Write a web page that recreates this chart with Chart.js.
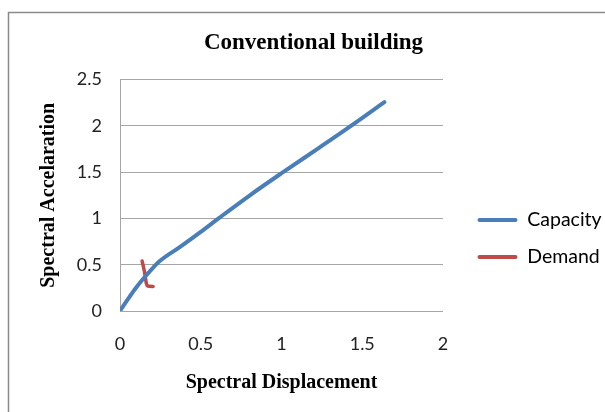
<!DOCTYPE html>
<html>
<head>
<meta charset="utf-8">
<script src="https://cdn.jsdelivr.net/npm/chart.js@4"></script>
<style>
  html, body { margin: 0; padding: 0; background: #fff; }
  #wrap { width: 605px; height: 412px; }
</style>
</head>
<body>
<div id="wrap"><canvas id="c" width="605" height="412"></canvas></div>
<script>
// Capacity curve (spectral displacement vs spectral acceleration)
const capacityX = [0, 0.05, 0.09, 0.14, 0.19, 0.25, 0.37, 0.5, 0.61, 0.8, 1.01, 1.23, 1.43, 1.637];
const capacityY = [0, 0.13, 0.23, 0.34, 0.44, 0.545, 0.69, 0.855, 1.0, 1.245, 1.5, 1.76, 2.0, 2.257];

// Demand curve
const demandX = [0.137, 0.152, 0.163, 0.172, 0.205];
const demandY = [0.54, 0.42, 0.30, 0.27, 0.265];

// Axis tick labels
const xTickValues = [0, 0.5, 1, 1.5, 2];
const yTickValues = [0, 0.5, 1, 1.5, 2, 2.5];

const seriesNames = ['Capacity', 'Demand'];
const seriesColors = ['#4A7EBB', '#BE4B48'];

const toPoints = (xs, ys) => xs.map((x, i) => ({ x: x, y: ys[i] }));

const tickFont = { family: 'Lato', size: 18 };
const legendFont = { family: 'Lato', size: 19.5 };
const serifBold = { family: 'Liberation Serif', size: 20, weight: 'bold' };

// White background and the outer chart frame
const framePlugin = {
  id: 'frame',
  beforeDraw(chart) {
    const ctx = chart.ctx;
    ctx.save();
    ctx.fillStyle = '#fff';
    ctx.fillRect(0, 0, chart.width, chart.height);
    ctx.strokeStyle = '#8a8a8a';
    ctx.lineWidth = 1.5;
    ctx.beginPath();
    ctx.moveTo(8.5, chart.height + 2);
    ctx.lineTo(8.5, 12.5);
    ctx.lineTo(chart.width + 2, 12.5);
    ctx.stroke();
    ctx.restore();
  }
};

new Chart(document.getElementById('c'), {
  type: 'line',
  data: {
    datasets: [
      {
        label: seriesNames[0],
        data: toPoints(capacityX, capacityY),
        borderColor: seriesColors[0],
        backgroundColor: seriesColors[0],
        borderWidth: 4,
        pointRadius: 0,
        cubicInterpolationMode: 'monotone',
        borderCapStyle: 'round',
        borderJoinStyle: 'round',
        fill: false
      },
      {
        label: seriesNames[1],
        data: toPoints(demandX, demandY),
        borderColor: seriesColors[1],
        backgroundColor: seriesColors[1],
        borderWidth: 3.5,
        pointRadius: 0,
        cubicInterpolationMode: 'monotone',
        borderCapStyle: 'round',
        borderJoinStyle: 'round',
        fill: false
      }
    ]
  },
  options: {
    responsive: false,
    animation: false,
    devicePixelRatio: 1,
    layout: { padding: { top: 10, left: 22, right: 0, bottom: 0 } },
    scales: {
      x: {
        type: 'linear',
        min: 0,
        max: 2,
        afterBuildTicks: (s) => { s.ticks = xTickValues.map(v => ({ value: v })); },
        afterFit: (s) => { s.height = 101; },
        grid: { display: false, drawTicks: false },
        border: { display: false },
        ticks: { font: tickFont, color: '#222', padding: 22, maxRotation: 0, callback: (v) => String(v) },
        title: {
          display: true,
          text: 'Spectral Displacement',
          font: serifBold,
          color: '#000',
          padding: { top: 0, bottom: 17 }
        }
      },
      y: {
        type: 'linear',
        min: 0,
        max: 2.5,
        afterBuildTicks: (s) => { s.ticks = yTickValues.map(v => ({ value: v })); },
        afterFit: (s) => { s.width = 98; },
        grid: { color: '#a6a6a6', lineWidth: 1, drawTicks: false },
        border: { display: true, color: '#a6a6a6', width: 1 },
        ticks: { font: tickFont, color: '#222', padding: 18, callback: (v) => String(v) },
        title: {
          display: true,
          text: 'Spectral Accelaration',
          font: serifBold,
          color: '#000',
          padding: { top: 15, bottom: 0 }
        }
      },
      gap: {
        type: 'linear',
        axis: 'y',
        position: 'right',
        display: true,
        afterFit: (s) => { s.width = 17; },
        grid: { display: false, drawTicks: false },
        border: { display: false },
        ticks: { display: false }
      }
    },
    plugins: {
      title: {
        display: true,
        text: 'Conventional building',
        font: { family: 'Liberation Serif', size: 23, weight: 'bold' },
        color: '#000',
        padding: { top: 19, bottom: 23 }
      },
      legend: {
        position: 'right',
        align: 'center',
        maxWidth: 145,
        title: {
          display: true,
          text: '',
          font: { size: 10, lineHeight: 1 },
          padding: { top: 45, bottom: 0 }
        },
        labels: {
          boxWidth: 40,
          boxHeight: 4,
          padding: 17.5,
          font: legendFont,
          color: '#000',
          generateLabels: (chart) => {
            const items = Chart.defaults.plugins.legend.labels.generateLabels(chart);
            return items.map(it => Object.assign(it, { lineWidth: 0, fillStyle: it.strokeStyle, borderRadius: 2 }));
          }
        }
      },
      tooltip: { enabled: false }
    }
  },
  plugins: [framePlugin]
});
</script>
</body>
</html>
